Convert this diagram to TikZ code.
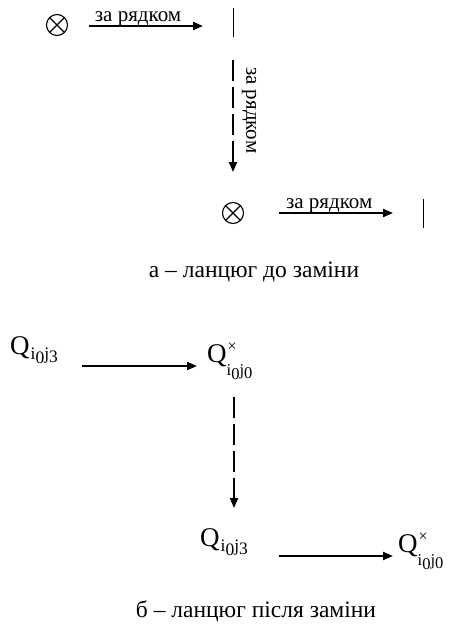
\documentclass[tikz,border=0pt]{standalone}
\usepackage{fontspec}
\setmainfont{Liberation Serif}
\usetikzlibrary{arrows.meta,positioning,calc}
\newcommand{\qidx}[3]{{\fontsize{#3}{19}\selectfont i\raisebox{-4pt}{#1}j\raisebox{-3pt}{#2}}}
\newcommand{\qplain}[1]{Q\kern1pt\raisebox{-5pt}{\qidx{0}{#1}{17.5}}}
\newcommand{\qcross}[1]{Q\rlap{\kern1pt\raisebox{11pt}{\fontsize{16}{17}\selectfont ×}}\raisebox{-13pt}{\qidx{0}{#1}{16.5}}}
\tikzset{
    row-arrow/.style = {-{Triangle[length=10pt,width=8pt]}, line width=2pt},
    dash-arrow/.style = {row-arrow, dash pattern=on 21pt off 6pt},
    row-label/.style = {font=\fontsize{21}{23}\selectfont, inner sep=1pt},
    cross-mark/.style = {circle, draw, line width=1.1pt, minimum size=21pt, inner sep=0pt,
        path picture={\draw[line width=1.1pt]
            (path picture bounding box.north west) -- (path picture bounding box.south east)
            (path picture bounding box.north east) -- (path picture bounding box.south west);}},
    bar-mark/.style = {inner sep=0pt, minimum width=0pt, minimum height=28pt},
    q-cell/.style = {font=\fontsize{27}{29}\selectfont, inner sep=0pt},
    caption-text/.style = {font=\fontsize{23.5}{26}\selectfont, inner sep=0pt},
}

\begin{document}
\begin{tikzpicture}[x=1pt,y=-1pt]
\useasboundingbox (0,0) rectangle (457,626);
% a -- before the swap
\node[cross-mark] (cross-a1) at (57,25) {};
\node[bar-mark] (bar-a1) at (233,22.5) {};
\draw[line width=1pt] (bar-a1.north) -- (bar-a1.south);
\draw[row-arrow] ($(cross-a1.center)+(32pt,-1pt)$) -- ($(cross-a1.center -| bar-a1.center)+(-30pt,-1pt)$)
    node[row-label, pos=0.43, anchor=base, yshift=4pt] (lab-a1) {за рядком};
\node[cross-mark] (cross-a2) at (233,213) {};
\draw[dash-arrow] ($(bar-a1.south)+(0,-23pt)$) -- ($(cross-a2.center)+(0,41pt)$)
    node[row-label, pos=0.45, anchor=south, rotate=-90, inner sep=8pt] (lab-a2) {за рядком};
\node[bar-mark] (bar-a2) at (423,213.5) {};
\draw[line width=1pt] (bar-a2.north) -- (bar-a2.south);
\draw[row-arrow] ($(cross-a2.center)+(46pt,0)$) -- ($(cross-a2.center -| bar-a2.center)+(-30pt,0)$)
    node[row-label, pos=0.44, anchor=base, yshift=5pt] (lab-a3) {за рядком};
\node[caption-text, anchor=base] (cap-a) at (254,277) {а – ланцюг до заміни};

% b -- after the swap
\node[q-cell, anchor=base west] (q-b1) at (10,354) {\qplain{3}};
\node[q-cell, anchor=base west] (q-b2) at (207,362) {\qcross{0}};
\draw[row-arrow] ($(q-b1.base west)+(72pt,-12pt)$) -- ($(q-b1.base west -| q-b2.base west)+(-10pt,-12pt)$);
\node[q-cell, anchor=base west] (q-b3) at (200,546) {\qplain{3}};
\node[q-cell, anchor=base west] (q-b4) at (398,552) {\qcross{0}};
\draw[dash-arrow] ($(q-b2.base west)+(27pt,-35pt)$) -- ($(q-b3.base west)+(34pt,38pt)$);
\draw[row-arrow] ($(q-b3.base west)+(79pt,-10pt)$) -- ($(q-b3.base west -| q-b4.base west)+(-5pt,-10pt)$);
\node[caption-text, anchor=base] (cap-b) at (256,617) {б – ланцюг після заміни};
\end{tikzpicture}
\end{document}
